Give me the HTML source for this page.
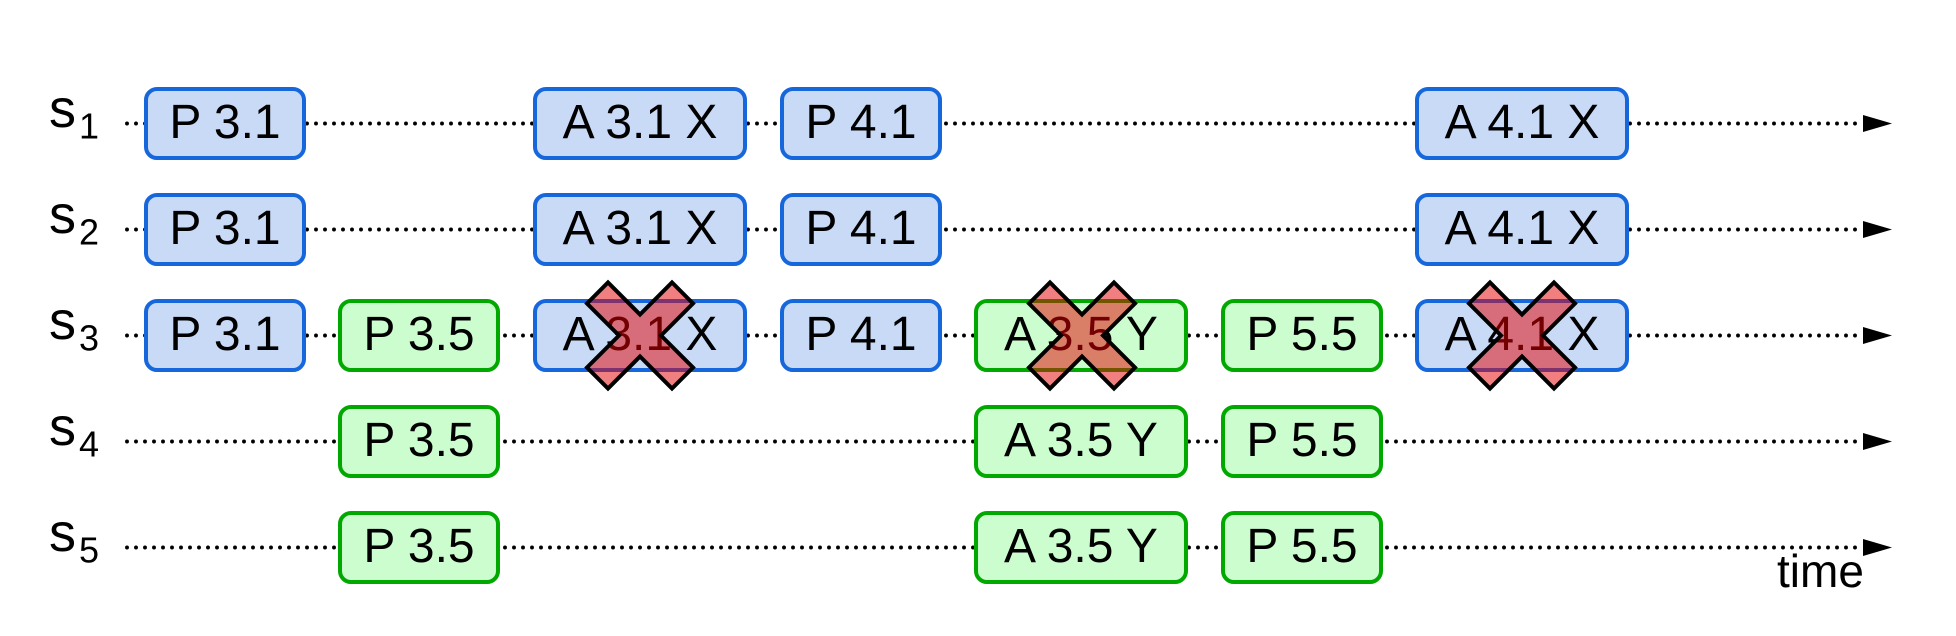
<!DOCTYPE html>
<html>
<head>
<meta charset="utf-8">
<style>
  html,body{margin:0;padding:0;background:#fff;}
  svg{display:block;}
  text{font-family:"Liberation Sans",Arial,Helvetica,sans-serif;fill:#000;}
</style>
</head>
<body>
<svg width="1956" height="636" viewBox="0 0 1956 636" xmlns="http://www.w3.org/2000/svg">
  <defs>
    <polygon id="cross" points="-53,-32 -32,-53 0,-21 32,-53 53,-32 21,0 53,32 32,53 0,21 -32,53 -53,32 -21,0"/>
  </defs>

  <!-- timelines -->
  <g stroke="#000" stroke-width="3.9" stroke-linecap="round" stroke-dasharray="0 9" fill="none">
    <line x1="127" y1="123.5" x2="1860" y2="123.5"/>
    <line x1="127" y1="229.5" x2="1860" y2="229.5"/>
    <line x1="127" y1="335.5" x2="1860" y2="335.5"/>
    <line x1="127" y1="441.5" x2="1860" y2="441.5"/>
    <line x1="127" y1="547.5" x2="1860" y2="547.5"/>
  </g>
  <g fill="#000">
    <polygon points="1863,327 1892,335.5 1863,344" transform="translate(0,-212)"/>
    <polygon points="1863,327 1892,335.5 1863,344" transform="translate(0,-106)"/>
    <polygon points="1863,327 1892,335.5 1863,344"/>
    <polygon points="1863,327 1892,335.5 1863,344" transform="translate(0,106)"/>
    <polygon points="1863,327 1892,335.5 1863,344" transform="translate(0,212)"/>
  </g>

  <!-- labels -->
  <g>
    <text x="49" y="127" font-size="54">s</text><text x="79" y="138.5" font-size="36">1</text>
    <text x="49" y="233" font-size="54">s</text><text x="79" y="244.5" font-size="36">2</text>
    <text x="49" y="339" font-size="54">s</text><text x="79" y="350.5" font-size="36">3</text>
    <text x="49" y="445" font-size="54">s</text><text x="79" y="456.5" font-size="36">4</text>
    <text x="49" y="551" font-size="54">s</text><text x="79" y="562.5" font-size="36">5</text>
  </g>

  <!-- blue boxes -->
  <g fill="#c9daf6" stroke="#1667dc" stroke-width="4">
    <rect x="146" y="89" width="158" height="69" rx="11"/>
    <rect x="535" y="89" width="210" height="69" rx="11"/>
    <rect x="782" y="89" width="158" height="69" rx="11"/>
    <rect x="1417" y="89" width="210" height="69" rx="11"/>

    <rect x="146" y="195" width="158" height="69" rx="11"/>
    <rect x="535" y="195" width="210" height="69" rx="11"/>
    <rect x="782" y="195" width="158" height="69" rx="11"/>
    <rect x="1417" y="195" width="210" height="69" rx="11"/>

    <rect x="146" y="301" width="158" height="69" rx="11"/>
    <rect x="535" y="301" width="210" height="69" rx="11"/>
    <rect x="782" y="301" width="158" height="69" rx="11"/>
    <rect x="1417" y="301" width="210" height="69" rx="11"/>
  </g>

  <!-- green boxes -->
  <g fill="#ccfdcf" stroke="#00a800" stroke-width="4">
    <rect x="340" y="301" width="158" height="69" rx="11"/>
    <rect x="976" y="301" width="210" height="69" rx="11"/>
    <rect x="1223" y="301" width="158" height="69" rx="11"/>

    <rect x="340" y="407" width="158" height="69" rx="11"/>
    <rect x="976" y="407" width="210" height="69" rx="11"/>
    <rect x="1223" y="407" width="158" height="69" rx="11"/>

    <rect x="340" y="513" width="158" height="69" rx="11"/>
    <rect x="976" y="513" width="210" height="69" rx="11"/>
    <rect x="1223" y="513" width="158" height="69" rx="11"/>
  </g>

  <!-- box labels -->
  <g font-size="48" text-anchor="middle">
    <text x="225" y="138">P 3.1</text>
    <text x="640" y="138">A 3.1 X</text>
    <text x="861" y="138">P 4.1</text>
    <text x="1522" y="138">A 4.1 X</text>

    <text x="225" y="244">P 3.1</text>
    <text x="640" y="244">A 3.1 X</text>
    <text x="861" y="244">P 4.1</text>
    <text x="1522" y="244">A 4.1 X</text>

    <text x="225" y="350">P 3.1</text>
    <text x="419" y="350">P 3.5</text>
    <text x="640" y="350">A 3.1 X</text>
    <text x="861" y="350">P 4.1</text>
    <text x="1081" y="350">A 3.5 Y</text>
    <text x="1302" y="350">P 5.5</text>
    <text x="1522" y="350">A 4.1 X</text>

    <text x="419" y="456">P 3.5</text>
    <text x="1081" y="456">A 3.5 Y</text>
    <text x="1302" y="456">P 5.5</text>

    <text x="419" y="562">P 3.5</text>
    <text x="1081" y="562">A 3.5 Y</text>
    <text x="1302" y="562">P 5.5</text>
  </g>

  <!-- crosses -->
  <g>
    <use href="#cross" transform="translate(640,335.5)" fill="rgb(230,0,0)" fill-opacity="0.5"/>
    <use href="#cross" transform="translate(640,335.5)" fill="none" stroke="#000" stroke-width="4" stroke-linejoin="miter"/>
    <use href="#cross" transform="translate(1082,335.5)" fill="rgb(230,0,0)" fill-opacity="0.5"/>
    <use href="#cross" transform="translate(1082,335.5)" fill="none" stroke="#000" stroke-width="4" stroke-linejoin="miter"/>
    <use href="#cross" transform="translate(1522,335.5)" fill="rgb(230,0,0)" fill-opacity="0.5"/>
    <use href="#cross" transform="translate(1522,335.5)" fill="none" stroke="#000" stroke-width="4" stroke-linejoin="miter"/>
  </g>

  <!-- time label -->
  <text x="1777" y="587" font-size="46">time</text>
</svg>
</body>
</html>
